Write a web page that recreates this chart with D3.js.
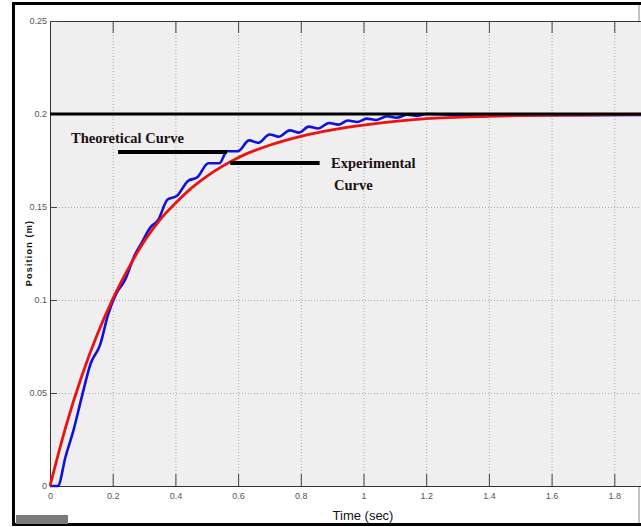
<!DOCTYPE html>
<html>
<head>
<meta charset="utf-8">
<style>
  body { margin: 0; background: #fff; }
  svg { display: block; }
  .tick text { font-family: "Liberation Sans Narrow", "Liberation Sans", sans-serif; font-size: 9px; fill: #555; }
</style>
</head>
<body>
  <svg width="641" height="527"></svg>

  <script src="https://cdn.jsdelivr.net/npm/d3@7"></script>

  <script>
    // tick values
    const xTicks = [0, 0.2, 0.4, 0.6, 0.8, 1, 1.2, 1.4, 1.6, 1.8];
    const yTicks = [0, 0.05, 0.1, 0.15, 0.2, 0.25];

    // theoretical response (red)
    const theoT = [0, 0.05, 0.1, 0.15, 0.2, 0.25, 0.3, 0.35, 0.4, 0.45, 0.5, 0.6, 0.7, 0.8, 0.9, 1.0, 1.1, 1.2, 1.4, 1.6, 1.8, 2.0];
    const theoV = [0, 0.0317, 0.0585, 0.0812, 0.1005, 0.1170, 0.1315, 0.1430, 0.1520, 0.1600, 0.1665, 0.1765, 0.1832, 0.1880, 0.1915, 0.1940, 0.1960, 0.1975, 0.1988, 0.1994, 0.1997, 0.1998];

    // experimental response (blue), with the little steps
    const expT = [0, 0.025, 0.05, 0.075, 0.1, 0.13, 0.16, 0.185, 0.21, 0.24, 0.27, 0.29, 0.32, 0.345, 0.375, 0.405, 0.44, 0.47, 0.505, 0.54, 0.565, 0.6, 0.635, 0.665, 0.7, 0.73, 0.765, 0.795, 0.825, 0.855, 0.89, 0.92, 0.95, 0.98, 1.01, 1.04, 1.075, 1.105, 1.14, 1.17, 1.2, 1.3, 1.5, 1.7, 2.0];
    const expV = [0, 0, 0.016, 0.030, 0.047, 0.066, 0.076, 0.092, 0.103, 0.111, 0.124, 0.130, 0.139, 0.143, 0.154, 0.156, 0.164, 0.166, 0.1735, 0.1735, 0.180, 0.180, 0.1858, 0.1845, 0.189, 0.1878, 0.1912, 0.1900, 0.1932, 0.1922, 0.1952, 0.1943, 0.1965, 0.1957, 0.1975, 0.1968, 0.1988, 0.1980, 0.1996, 0.1990, 0.2, 0.1995, 0.1993, 0.1994, 0.1995];

    // reference level
    const target = 0.2;

    // annotation pointer lines [t0, t1, value]
    const theoPointer = [0.217, 0.565, 0.1796];
    const expPointer = [0.575, 0.86, 0.1737];

    const svg = d3.select("svg");

    // outer frame of the screenshot
    svg.append("rect").attr("x", 13.5).attr("y", 3.5).attr("width", 640).attr("height", 521)
      .attr("fill", "#fff").attr("stroke", "#000").attr("stroke-width", 3);
    svg.append("line").attr("x1", 639).attr("x2", 639).attr("y1", 5).attr("y2", 523)
      .attr("stroke", "#888").attr("stroke-width", 1);
    svg.append("rect").attr("x", 637).attr("y", 260).attr("width", 4).attr("height", 6).attr("fill", "#000");

    const plotLeft = 50, plotTop = 21, plotBottom = 486, plotRight = 677;
    const x = d3.scaleLinear().domain([0, 2]).range([plotLeft, plotRight]);
    const y = d3.scaleLinear().domain([0, 0.25]).range([plotBottom, plotTop]);

    // plot background
    svg.append("rect").attr("x", plotLeft).attr("y", plotTop)
      .attr("width", plotRight - plotLeft).attr("height", plotBottom - plotTop)
      .attr("fill", "#efefef");

    // dotted grid
    svg.append("g")
      .attr("transform", `translate(0,${plotBottom})`)
      .call(d3.axisBottom(x).tickValues(xTicks).tickSize(-(plotBottom - plotTop)).tickFormat(""))
      .call(g => g.select(".domain").remove())
      .call(g => g.selectAll("line").attr("stroke", "#aaa").attr("stroke-dasharray", "1,2"));
    svg.append("g")
      .attr("transform", `translate(${plotLeft},0)`)
      .call(d3.axisLeft(y).tickValues(yTicks).tickSize(-(plotRight - plotLeft)).tickFormat(""))
      .call(g => g.select(".domain").remove())
      .call(g => g.selectAll("line").attr("stroke", "#aaa").attr("stroke-dasharray", "1,2"));

    // axes, matlab-style ticks pointing inward
    const fmt = d => d === 0 ? "0" : String(d);
    svg.append("g")
      .attr("transform", `translate(0,${plotBottom})`)
      .call(d3.axisBottom(x).tickValues(xTicks).tickSizeInner(-12).tickSizeOuter(0).tickPadding(7).tickFormat(fmt))
      .call(g => g.select(".domain").attr("stroke", "#333"))
      .call(g => g.selectAll(".tick line").attr("stroke", "#444"));
    svg.append("g")
      .attr("transform", `translate(0,${plotTop})`)
      .call(d3.axisTop(x).tickValues(xTicks).tickSizeInner(-12).tickSizeOuter(0).tickFormat(""))
      .call(g => g.select(".domain").attr("stroke", "#333"))
      .call(g => g.selectAll(".tick line").attr("stroke", "#444"));
    svg.append("g")
      .attr("transform", `translate(${plotLeft},0)`)
      .call(d3.axisLeft(y).tickValues(yTicks).tickSizeInner(-7).tickSizeOuter(0).tickPadding(3).tickFormat(fmt))
      .call(g => g.select(".domain").attr("stroke", "#333"))
      .call(g => g.selectAll(".tick line").attr("stroke", "#444"));

    // curves
    const line = d3.line().x(d => x(d[0])).y(d => y(d[1])).curve(d3.curveMonotoneX);
    svg.append("path")
      .datum(d3.zip(expT, expV))
      .attr("d", line)
      .attr("fill", "none").attr("stroke", "#1010e0").attr("stroke-width", 2.6).attr("stroke-linejoin", "round");
    svg.append("path")
      .datum(d3.zip(theoT, theoV))
      .attr("d", line)
      .attr("fill", "none").attr("stroke", "#ee1111").attr("stroke-width", 2.8).attr("stroke-linejoin", "round");

    // target line at 0.2
    svg.append("line")
      .attr("x1", x(0)).attr("x2", x(2)).attr("y1", y(target)).attr("y2", y(target))
      .attr("stroke", "#000").attr("stroke-width", 3);

    // annotations
    [theoPointer, expPointer].forEach(p => {
      svg.append("line")
        .attr("x1", x(p[0])).attr("x2", x(p[1])).attr("y1", y(p[2])).attr("y2", y(p[2]))
        .attr("stroke", "#000").attr("stroke-width", 4);
    });
    const serif = "'Liberation Serif', 'DejaVu Serif', serif";
    svg.append("text").attr("x", 71).attr("y", 143).text("Theoretical Curve")
      .attr("font-family", serif).attr("font-weight", "bold").attr("font-size", 14.5).attr("fill", "#1a1010");
    svg.append("text").attr("x", 331).attr("y", 168).text("Experimental")
      .attr("font-family", serif).attr("font-weight", "bold").attr("font-size", 14.5).attr("fill", "#1a1010");
    svg.append("text").attr("x", 334).attr("y", 190).text("Curve")
      .attr("font-family", serif).attr("font-weight", "bold").attr("font-size", 14.5).attr("fill", "#1a1010");

    // axis titles
    svg.append("text").attr("x", 363).attr("y", 520).attr("text-anchor", "middle")
      .attr("font-family", "'Liberation Sans Narrow', 'Liberation Sans', sans-serif").attr("font-size", 13)
      .attr("fill", "#111").text("Time (sec)");
    svg.append("text").attr("transform", "translate(32,253) rotate(-90)").attr("text-anchor", "middle")
      .attr("font-family", "'Liberation Sans', sans-serif").attr("font-size", 9).attr("font-weight", "bold")
      .attr("letter-spacing", 1.2).attr("fill", "#111").text("Position (m)");

    // grey scrollbar stub at the bottom left
    svg.append("rect").attr("x", 16).attr("y", 515).attr("width", 52).attr("height", 9).attr("fill", "#7a7a7a");
  </script>
</body>
</html>
